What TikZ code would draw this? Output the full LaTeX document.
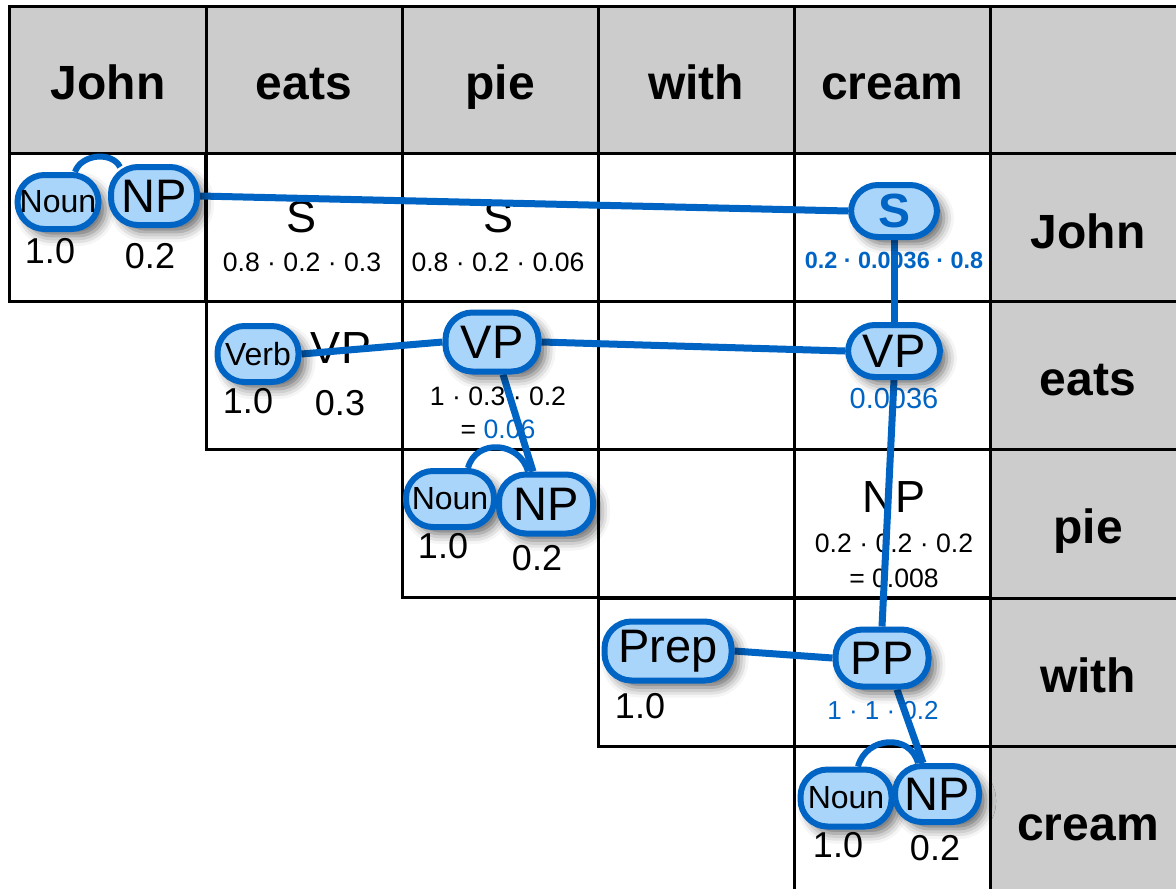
\documentclass[tikz,border=0pt]{standalone}
\usepackage{fontspec}
\setmainfont{Liberation Sans}
\usetikzlibrary{calc,shadows.blur}
\definecolor{edgeblue}{RGB}{0,100,196}
\definecolor{nodefill}{RGB}{170,213,250}
\definecolor{headgray}{RGB}{204,204,204}
\pgfdeclarelayer{edgelayer}
\pgfdeclarelayer{nodelayer}
\pgfsetlayers{main,edgelayer,nodelayer}

\begin{document}
\begin{tikzpicture}[x=0.5pt,y=-0.5pt,
  gridline/.style={draw=black, line width=1.5pt},
  catnode/.style={draw=edgeblue, line width=3pt, fill=nodefill, rounded corners=13.5pt,
    inner sep=0pt, font=\fontsize{23.5}{27}\selectfont,
    blur shadow={shadow xshift=3.5pt, shadow yshift=-3.5pt, shadow blur radius=5pt, shadow opacity=60}},
  tinycat/.style={font=\fontsize{16}{18}\selectfont},
  conn/.style={draw=edgeblue, line width=3.5pt},
  hdrtxt/.style={anchor=base, inner sep=0pt, font=\fontsize{24}{28}\selectfont\bfseries},
  bigtxt/.style={anchor=base, inner sep=0pt, font=\fontsize{22.5}{26}\selectfont},
  numtxt/.style={anchor=base, inner sep=0pt, font=\fontsize{18}{21}\selectfont},
  frmtxt/.style={anchor=base, inner sep=0pt, font=\fontsize{13.3}{16}\selectfont},
]
\useasboundingbox (0,0) rectangle (1176,888);

% grey header row and word column
\fill[headgray] (9,7) rectangle (1190,153);
\fill[headgray] (990,153) rectangle (1190,900);
\foreach \xa/\xb in {9/206,206/402,402/598,598/794,794/990,990/1190}
  \draw[gridline] (\xa,7) rectangle (\xb,153);
\foreach \ya/\yb in {153/301,301/449,449/598,598/746,746/900}
  \draw[gridline] (990,\ya) rectangle (1190,\yb);
% chart cells (upper triangle)
\foreach \xa/\ya in {9/153,206/153,402/153,598/153,794/153,206/301,402/301,598/301,794/301,402/449,598/449,794/449,598/598,794/598,794/746}
  \draw[gridline] (\xa,\ya) rectangle ++(196,148);
\draw[gridline] (794,746) -- (794,900);

% words along the top and the right
\node[hdrtxt] (h1) at (108,99) {John};
\node[hdrtxt] (h2) at (304,99) {eats};
\node[hdrtxt] (h3) at (500,99) {pie};
\node[hdrtxt] (h4) at (696,99) {with};
\node[hdrtxt] (h5) at (892,99) {cream};
\node[hdrtxt] (r1) at (1088,248) {John};
\node[hdrtxt] (r2) at (1088,395) {eats};
\node[hdrtxt] (r3) at (1088,543) {pie};
\node[hdrtxt] (r4) at (1088,692) {with};
\node[hdrtxt] (r5) at (1088,840) {cream};

% probabilities of the lexical entries
\node[numtxt] (p11) at (50,263) {1.0};
\node[numtxt] (p12) at (150,268) {0.2};
\node[numtxt] (p21) at (248,413) {1.0};
\node[numtxt] (p22) at (340,415) {0.3};
\node[numtxt] (p31) at (443,558) {1.0};
\node[numtxt] (p32) at (537,570) {0.2};
\node[numtxt] (p41) at (640,718) {1.0};
\node[numtxt] (p51) at (838,857) {1.0};
\node[numtxt] (p52) at (935,860) {0.2};

% constituents not on the best parse
\node[bigtxt] (s1) at (302,232) {S};
\node[bigtxt] (s2) at (498,232) {S};
\node[bigtxt] (vpt) at (341,363) {VP};
\node[bigtxt] (npt) at (894,512) {NP};

% products
\node[frmtxt] (f1) at (302,271) {0.8 · 0.2 · 0.3};
\node[frmtxt] (f2) at (498,271) {0.8 · 0.2 · 0.06};
\node[frmtxt] (f3) at (498,405) {1 · 0.3 · 0.2};
\node[frmtxt] (f4) at (498,438) {= \textcolor{edgeblue}{0.06}};
\node[frmtxt] (f5) at (894,552) {0.2 · 0.2 · 0.2};
\node[frmtxt] (f6) at (894,587) {= 0.008};
\node[frmtxt, text=edgeblue, font=\fontsize{11.7}{14}\selectfont\bfseries] (f7) at (894,268) {0.2 · 0.0036 · 0.8};
\node[frmtxt, text=edgeblue, font=\fontsize{14.5}{17}\selectfont] (f8) at (894,408) {0.0036};
\node[frmtxt, text=edgeblue, font=\fontsize{13}{16}\selectfont] (f9) at (883,719) {1 · 1 · 0.2};

% best-parse constituents
\begin{pgfonlayer}{nodelayer}
\node[catnode, tinycat, minimum width=40.5pt, minimum height=27pt] (noun1) at (58,202) {Noun};
\node[catnode, minimum width=43pt, minimum height=29pt] (np1) at (154,196) {NP};
\node[catnode, minimum width=43pt, minimum height=26pt, text=edgeblue, font=\fontsize{24}{27}\selectfont\bfseries] (snode) at (894,211) {S};
\node[catnode, tinycat, minimum width=40.5pt, minimum height=28pt] (verb) at (258,354) {Verb};
\node[catnode, minimum width=46.5pt, minimum height=29.5pt] (vp2) at (492,342) {VP};
\node[catnode, minimum width=46pt, minimum height=26pt] (vp4) at (894,351) {VP};
\node[catnode, tinycat, minimum width=44pt, minimum height=28pt] (noun3) at (450,499) {Noun};
\node[catnode, minimum width=47pt, minimum height=29.5pt] (np3) at (546,504) {NP};
\node[catnode, minimum width=63.5pt, minimum height=29.5pt] (prep) at (668,651) {Prep};
\node[catnode, minimum width=46.5pt, minimum height=28.5pt] (pp) at (882,658) {PP};
\node[catnode, tinycat, minimum width=45.5pt, minimum height=28.5pt] (noun5) at (846,798) {Noun};
\node[catnode, minimum width=42pt, minimum height=28pt] (np5) at (937,794) {NP};
\end{pgfonlayer}

\begin{pgfonlayer}{edgelayer}
  \draw[conn] (np1.east) -- (snode.west);
  \draw[conn] (snode.south) -- (vp4.north);
  \draw[conn] (verb.east) -- (vp2.west);
  \draw[conn] (vp2.east) -- (vp4.west);
  \draw[conn] ($(vp2.south)+(11,0)$) -- ($(np3.north)+(-13,0)$);
  \draw[conn] (vp4.south) -- (pp.north);
  \draw[conn] (prep.east) -- (pp.west);
  \draw[conn] ($(pp.south)+(15,0)$) -- ($(np5.north)+(-14,0)$);
  % unary links Noun -> NP
  \draw[conn, line width=3pt] ($(noun1.north)+(17,0)$) .. controls +(6,-18) and +(-8,-16) .. ($(np1.north)+(-34,3)$);
  \draw[conn, line width=3pt] ($(noun3.north)+(18,0)$) .. controls +(8,-30) and +(-8,-30) .. ($(np3.north)+(-18,0)$);
  \draw[conn, line width=3pt] ($(noun5.north)+(12,0)$) .. controls +(8,-30) and +(-8,-30) .. ($(np5.north)+(-19,0)$);
\end{pgfonlayer}
\end{tikzpicture}
\end{document}
